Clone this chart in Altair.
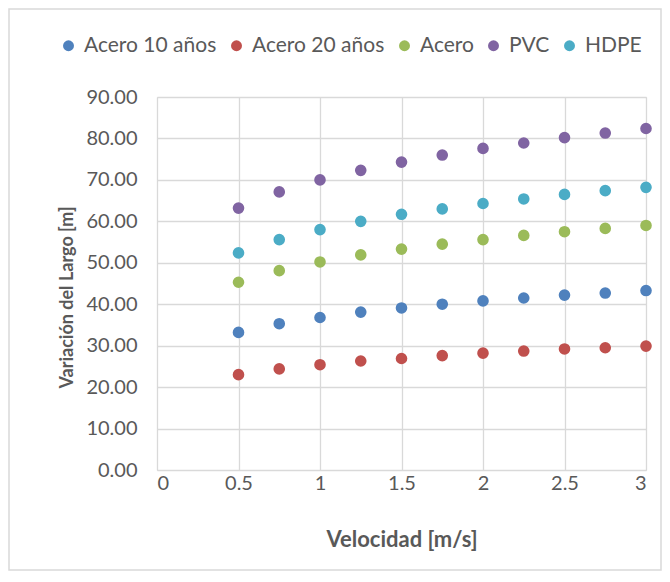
import altair as alt
import pandas as pd

velocidad = [0.5, 0.75, 1.0, 1.25, 1.5, 1.75, 2.0, 2.25, 2.5, 2.75, 3.0]
acero10 = [33.2, 35.3, 36.8, 38.1, 39.1, 40.0, 40.8, 41.5, 42.2, 42.7, 43.3]
acero20 = [23.0, 24.4, 25.4, 26.3, 26.9, 27.6, 28.2, 28.7, 29.2, 29.5, 29.9]
acero = [45.3, 48.1, 50.2, 51.9, 53.3, 54.5, 55.6, 56.6, 57.5, 58.3, 59.0]
pvc = [63.2, 67.1, 70.0, 72.3, 74.3, 76.0, 77.6, 78.9, 80.2, 81.3, 82.4]
hdpe = [52.4, 55.6, 58.0, 60.0, 61.7, 63.0, 64.3, 65.4, 66.5, 67.4, 68.2]

series = ["Acero 10 años", "Acero 20 años", "Acero", "PVC", "HDPE"]
colors = ["#4F81BD", "#C0504D", "#9BBB59", "#8064A2", "#4BACC6"]

rows = []
for name, vals in zip(series, [acero10, acero20, acero, pvc, hdpe]):
    for v, y in zip(velocidad, vals):
        rows.append({"Velocidad": v, "Valor": y, "Serie": name})
df = pd.DataFrame(rows)

FONT = "Lato"
GRAY = "#595959"

points = alt.Chart(df).mark_circle(size=135, opacity=1).encode(
    x=alt.X("Velocidad:Q",
            scale=alt.Scale(domain=[0, 3], nice=False),
            axis=alt.Axis(values=[0, 0.5, 1, 1.5, 2, 2.5, 3], title="Velocidad [m/s]",
                          labelExpr="format(datum.value, '~g')",
                          labelFontSize=20, labelColor=GRAY, labelFont=FONT,
                          titleFontSize=22, titleColor=GRAY, titleFont=FONT, titleFontWeight="bold",
                          titlePadding=36, labelPadding=3, ticks=False, domain=False,
                          gridColor="#D9D9D9", gridWidth=1.3)),
    y=alt.Y("Valor:Q",
            scale=alt.Scale(domain=[0, 90], nice=False),
            axis=alt.Axis(values=list(range(0, 91, 10)), format=".2f", title="Variación del Largo [m]",
                          labelFontSize=20, labelColor=GRAY, labelFont=FONT,
                          titleFontSize=18, titleColor=GRAY, titleFont=FONT, titleFontWeight="bold",
                          titlePadding=9, labelPadding=20, ticks=False, domain=False,
                          titleY=200,
                          gridColor="#D9D9D9", gridWidth=1.3)),
    color=alt.Color("Serie:N", scale=alt.Scale(domain=series, range=colors), sort=series,
                    legend=alt.Legend(orient="none", legendX=-99, legendY=-62, direction="horizontal",
                                      title=None, symbolType="circle", symbolSize=120,
                                      labelFontSize=21, labelColor=GRAY, labelFont=FONT,
                                      columnPadding=9, symbolOffset=0, labelOffset=5)),
)

frame = alt.Chart(df).mark_rect(fill=None, stroke="#D9D9D9", strokeWidth=1.5).encode(
    x=alt.value(-148), x2=alt.value(489 + 15), y=alt.value(-88), y2=alt.value(373 + 100)
).transform_filter("datum.Velocidad == 0.5 && datum.Serie == 'PVC'")

chart = alt.layer(frame, points).properties(
    width=489, height=373,
    autosize=alt.AutoSizeParams(type="none"),
    padding={"left": 149, "top": 89, "right": 16, "bottom": 104},
).configure_view(
    stroke="#D9D9D9", strokeWidth=1.3
).configure(background="white")

chart.save("out.html", embed_options={"renderer": "svg", "actions": False})
